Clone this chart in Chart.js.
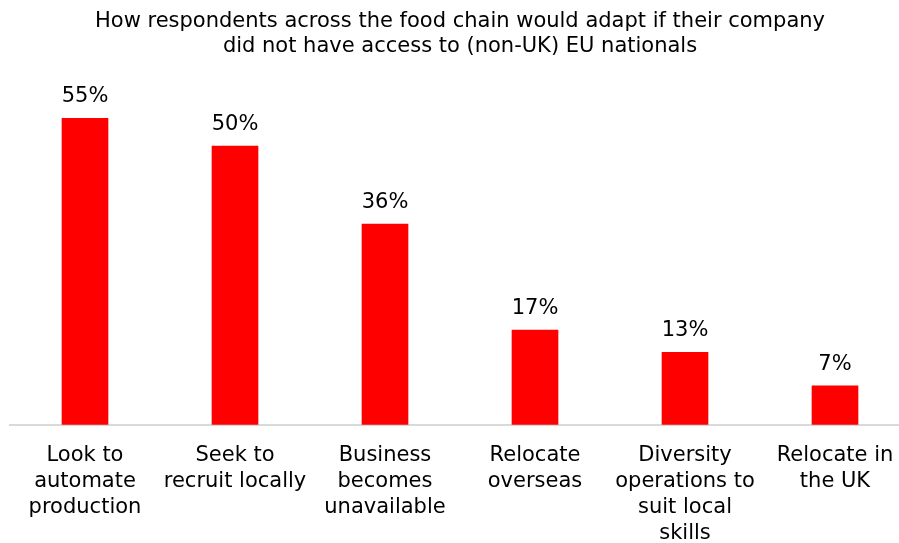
<!DOCTYPE html>
<html>
<head>
<meta charset="utf-8">
<script src="https://cdn.jsdelivr.net/npm/chart.js@4"></script>
<style>
  html, body { margin: 0; padding: 0; background: #fff; overflow: hidden; }
  #wrap { width: 910px; height: 543px; }
</style>
</head>
<body>
<div id="wrap"><canvas id="chart" width="910" height="543"></canvas></div>
<script>
const categories = [
  ['Look to', 'automate', 'production'],
  ['Seek to', 'recruit locally'],
  ['Business', 'becomes', 'unavailable'],
  ['Relocate', 'overseas'],
  ['Diversity', 'operations to', 'suit local', 'skills'],
  ['Relocate in', 'the UK']
];
const values = [55, 50, 36, 17, 13, 7];
const titleLines = [
  'How respondents across the food chain would adapt if their company',
  'did not have access to (non-UK) EU nationals'
];

// percentage labels above each bar
const barLabels = {
  id: 'barLabels',
  afterDatasetsDraw(chart) {
    const ctx = chart.ctx;
    const meta = chart.getDatasetMeta(0);
    ctx.save();
    ctx.font = '21px "DejaVu Sans", Verdana, sans-serif';
    ctx.fillStyle = '#000';
    ctx.textAlign = 'center';
    ctx.textBaseline = 'bottom';
    meta.data.forEach((bar, i) => {
      ctx.fillText(values[i] + '%', bar.x, bar.y - 11);
    });
    ctx.restore();
  }
};

new Chart(document.getElementById('chart'), {
  type: 'bar',
  data: {
    labels: categories,
    datasets: [{
      data: values,
      backgroundColor: '#ff0000',
      barThickness: 46
    }]
  },
  options: {
    responsive: false,
    animation: false,
    layout: { padding: { left: 10, right: 0, top: 0, bottom: -14 } },
    plugins: {
      legend: { display: false },
      tooltip: { enabled: false },
      title: {
        display: true,
        text: titleLines,
        color: '#000',
        font: { family: '"DejaVu Sans", Verdana, sans-serif', size: 21, weight: 'normal', lineHeight: 1.2 },
        padding: { top: 9, bottom: 31 }
      }
    },
    scales: {
      x: {
        grid: { display: false },
        border: { display: true, color: '#d9d9d9', width: 2 },
        ticks: {
          color: '#000',
          autoSkip: false,
          maxRotation: 0,
          minRotation: 0,
          padding: 10,
          font: { family: '"DejaVu Sans", Verdana, sans-serif', size: 21, lineHeight: 1.24 }
        }
      },
      y: {
        display: false,
        min: 0,
        max: 60
      }
    }
  },
  plugins: [barLabels]
});
</script>
</body>
</html>
